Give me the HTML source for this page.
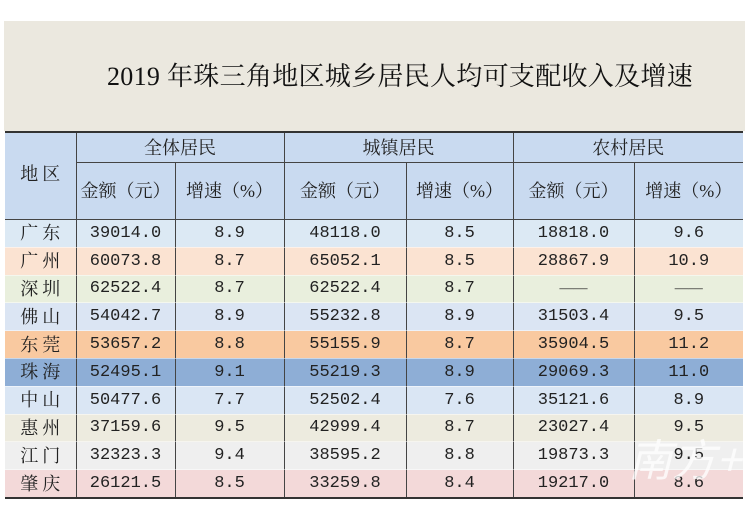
<!DOCTYPE html>
<html><head><meta charset="utf-8"><style>
body{margin:0;width:750px;height:520px;background:#fff;position:relative;overflow:hidden;font-family:"Liberation Serif","Noto Serif CJK SC",serif;}
.title{position:absolute;left:4px;top:21px;width:741px;height:110px;background:#ebe8df;}
.title div{position:absolute;left:103px;top:35px;font-size:26px;color:#111;white-space:nowrap;letter-spacing:0.3px;}
table{position:absolute;left:5px;top:131px;border-collapse:collapse;table-layout:fixed;border-top:2px solid #333;border-bottom:2px solid #333;}
td{padding:0;text-align:center;font-size:18px;color:#222;border-left:1px solid #444;border-right:1px solid #444;line-height:1;}
td.n{font-family:"Liberation Mono","Noto Serif CJK SC",monospace;font-size:17px;}
td.c{letter-spacing:4px;padding-left:4px;}
tr.h td{background:#c9daf0;}
tr.r td{height:26.8px;border-bottom:1px solid rgba(255,255,255,0.5);}
td:first-child{border-left:none}
td:last-child{border-right:none}
.hb{border-bottom:1px solid #444;}
</style></head><body>
<div class="title"><div>2019 年珠三角地区城乡居民人均可支配收入及增速</div></div>
<table>
<colgroup><col style="width:71px"><col style="width:99px"><col style="width:109px"><col style="width:122px"><col style="width:107px"><col style="width:121px"><col style="width:109px"></colgroup>
<tr class="h"><td rowspan="2" class="c" style="border-bottom:1px solid #444;vertical-align:top;padding-top:32px">地区</td><td colspan="2" class="hb" style="height:29px">全体居民</td><td colspan="2" class="hb">城镇居民</td><td colspan="2" class="hb">农村居民</td></tr>
<tr class="h"><td class="hb" style="height:56px">金额（元）</td><td class="hb">增速（%）</td><td class="hb">金额（元）</td><td class="hb">增速（%）</td><td class="hb">金额（元）</td><td class="hb">增速（%）</td></tr>
<tr class="r" style="background:#dce9f4"><td class="c">广东</td><td class="n">39014.0</td><td class="n">8.9</td><td class="n">48118.0</td><td class="n">8.5</td><td class="n">18818.0</td><td class="n">9.6</td></tr>
<tr class="r" style="background:#fbe3d2"><td class="c">广州</td><td class="n">60073.8</td><td class="n">8.7</td><td class="n">65052.1</td><td class="n">8.5</td><td class="n">28867.9</td><td class="n">10.9</td></tr>
<tr class="r" style="background:#e9efdd"><td class="c">深圳</td><td class="n">62522.4</td><td class="n">8.7</td><td class="n">62522.4</td><td class="n">8.7</td><td style="font-size:14px">——</td><td style="font-size:14px">——</td></tr>
<tr class="r" style="background:#dbe5f3"><td class="c">佛山</td><td class="n">54042.7</td><td class="n">8.9</td><td class="n">55232.8</td><td class="n">8.9</td><td class="n">31503.4</td><td class="n">9.5</td></tr>
<tr class="r" style="background:#f9c9a0"><td class="c">东莞</td><td class="n">53657.2</td><td class="n">8.8</td><td class="n">55155.9</td><td class="n">8.7</td><td class="n">35904.5</td><td class="n">11.2</td></tr>
<tr class="r" style="background:#8eaed6"><td class="c">珠海</td><td class="n">52495.1</td><td class="n">9.1</td><td class="n">55219.3</td><td class="n">8.9</td><td class="n">29069.3</td><td class="n">11.0</td></tr>
<tr class="r" style="background:#dae6f4"><td class="c">中山</td><td class="n">50477.6</td><td class="n">7.7</td><td class="n">52502.4</td><td class="n">7.6</td><td class="n">35121.6</td><td class="n">8.9</td></tr>
<tr class="r" style="background:#edebdf"><td class="c">惠州</td><td class="n">37159.6</td><td class="n">9.5</td><td class="n">42999.4</td><td class="n">8.7</td><td class="n">23027.4</td><td class="n">9.5</td></tr>
<tr class="r" style="background:#efefef"><td class="c">江门</td><td class="n">32323.3</td><td class="n">9.4</td><td class="n">38595.2</td><td class="n">8.8</td><td class="n">19873.3</td><td class="n">9.5</td></tr>
<tr class="r" style="background:#f3d9d9"><td class="c">肇庆</td><td class="n">26121.5</td><td class="n">8.5</td><td class="n">33259.8</td><td class="n">8.4</td><td class="n">19217.0</td><td class="n">8.6</td></tr>
</table>
<div style="position:absolute;left:628px;top:425px;font-size:44px;color:rgba(255,255,255,0.75);font-family:'Noto Sans CJK SC',sans-serif;font-style:italic;">南方+</div>
</body></html>
